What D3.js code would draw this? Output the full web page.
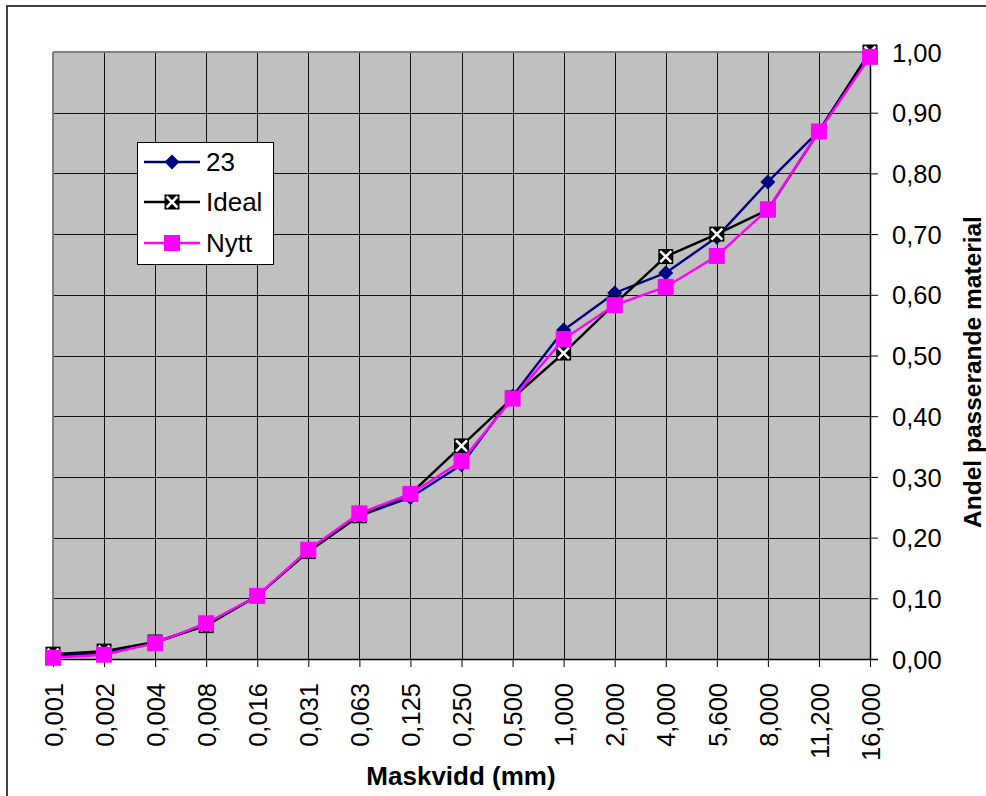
<!DOCTYPE html>
<html>
<head>
<meta charset="utf-8">
<script src="https://cdn.jsdelivr.net/npm/d3@7/dist/d3.min.js"></script>
<style>
  html, body { margin: 0; padding: 0; background: #fff; }
  svg { display: block; font-family: "Liberation Sans", Arial, sans-serif; }
</style>
</head>
<body>
<svg id="chart" width="986" height="796"></svg>
<script>
// Sieve sizes (mm) along the x axis
const sieves = ["0,001","0,002","0,004","0,008","0,016","0,031","0,063","0,125",
                "0,250","0,500","1,000","2,000","4,000","5,600","8,000","11,200","16,000"];
// Share of passing material per sieve
const serie23 = [0.005,0.010,0.027,0.056,0.104,0.177,0.236,0.266,0.320,0.433,0.542,0.603,0.636,0.695,0.786,0.870,1.000];
const ideal   = [0.008,0.013,0.028,0.055,0.104,0.177,0.236,0.272,0.351,0.430,0.504,0.585,0.663,0.700,0.740,0.869,1.000];
const nytt    = [0.002,0.007,0.026,0.059,0.104,0.180,0.240,0.272,0.326,0.429,0.527,0.583,0.613,0.664,0.741,0.869,0.992];
const yTicks  = [0,0.1,0.2,0.3,0.4,0.5,0.6,0.7,0.8,0.9,1.0];
const legendNames = ["23","Ideal","Nytt"];

const svg = d3.select("#chart");
const L = 53, R = 870, T = 52, B = 659;
const FONT = "'Liberation Sans', Arial, sans-serif";

const x = d3.scalePoint().domain(sieves).range([L, R]);
const y = d3.scaleLinear().domain([0, 1]).range([B, T]);
const fmt = v => d3.format(".2f")(v).replace(".", ",");

// outer chart frame
svg.append("rect").attr("x", 7).attr("y", 6).attr("width", 990).attr("height", 800)
  .attr("fill", "#fff").attr("stroke", "#404040").attr("stroke-width", 2);

// plot area
svg.append("rect").attr("x", L).attr("y", T).attr("width", R - L).attr("height", B - T)
  .attr("fill", "#c0c0c0");

// grid
const grid = svg.append("g").attr("shape-rendering", "crispEdges");
grid.selectAll("line.v").data(sieves.slice(1, -1)).join("line")
  .attr("x1", d => Math.round(x(d)) + 0.5).attr("x2", d => Math.round(x(d)) + 0.5)
  .attr("y1", T).attr("y2", B).attr("stroke", "#111").attr("stroke-width", 1);
grid.selectAll("line.h").data(yTicks.slice(1, -1)).join("line")
  .attr("y1", d => Math.round(y(d)) + 0.5).attr("y2", d => Math.round(y(d)) + 0.5)
  .attr("x1", L).attr("x2", R).attr("stroke", "#111").attr("stroke-width", 1);

// plot border: top/left grey, right/bottom axes dark
grid.append("line").attr("x1", L).attr("x2", R).attr("y1", T).attr("y2", T)
  .attr("stroke", "#808080").attr("stroke-width", 2);
grid.append("line").attr("x1", L).attr("x2", L).attr("y1", T).attr("y2", B)
  .attr("stroke", "#808080").attr("stroke-width", 2);

// right y axis
const yAxis = d3.axisRight(y).tickValues(yTicks).tickSize(8).tickPadding(14).tickFormat(fmt);
const gy = svg.append("g").attr("transform", `translate(${R},0)`).call(yAxis);
gy.select(".domain").attr("stroke", "#000").attr("stroke-width", 1.5);
gy.selectAll(".tick line").attr("stroke", "#000");
gy.selectAll(".tick text").attr("font-size", 25.5).attr("fill", "#000")
  .attr("font-family", FONT).attr("dy", "0.36em");

// bottom x axis
const xAxis = d3.axisBottom(x).tickSize(8).tickSizeOuter(0);
const gx = svg.append("g").attr("transform", `translate(0,${B})`).call(xAxis);
gx.select(".domain").attr("stroke", "#000").attr("stroke-width", 1.5);
gx.selectAll(".tick line").attr("stroke", "#000");
gx.selectAll(".tick text").attr("font-size", 25.5).attr("fill", "#000")
  .attr("font-family", FONT)
  .attr("transform", "rotate(-90)")
  .attr("text-anchor", "end")
  .attr("x", -24).attr("y", 0).attr("dy", "0.36em");

// series
const line = d3.line().x((d, i) => x(sieves[i])).y(d => y(d));
const plot = svg.append("g");

function drawDiamond(g, cx, cy, s) {
  g.append("path")
    .attr("d", `M${cx},${cy - s}L${cx + s},${cy}L${cx},${cy + s}L${cx - s},${cy}Z`)
    .attr("fill", "#000080");
}
function drawIdeal(g, cx, cy, s) {
  g.append("rect").attr("x", cx - s).attr("y", cy - s).attr("width", 2 * s).attr("height", 2 * s)
    .attr("fill", "#000");
  g.append("path")
    .attr("d", `M${cx - s + 2},${cy - s + 2}L${cx + s - 2},${cy + s - 2}M${cx + s - 2},${cy - s + 2}L${cx - s + 2},${cy + s - 2}`)
    .attr("stroke", "#fff").attr("stroke-width", 2.6);
}
function drawSquare(g, cx, cy, s) {
  g.append("rect").attr("x", cx - s).attr("y", cy - s).attr("width", 2 * s).attr("height", 2 * s)
    .attr("fill", "#ff00ff");
}

plot.append("path").datum(serie23).attr("d", line).attr("fill", "none")
  .attr("stroke", "#000080").attr("stroke-width", 2.4);
serie23.forEach((v, i) => drawDiamond(plot, x(sieves[i]), y(v), 7.5));

plot.append("path").datum(ideal).attr("d", line).attr("fill", "none")
  .attr("stroke", "#000").attr("stroke-width", 2.4);
ideal.forEach((v, i) => drawIdeal(plot, x(sieves[i]), y(v), 7.5));

plot.append("path").datum(nytt).attr("d", line).attr("fill", "none")
  .attr("stroke", "#ff00ff").attr("stroke-width", 2.4);
nytt.forEach((v, i) => drawSquare(plot, x(sieves[i]), y(v), 8));

// legend
const lg = svg.append("g");
lg.append("rect").attr("x", 137.5).attr("y", 142.5).attr("width", 136).attr("height", 122)
  .attr("fill", "#fff").attr("stroke", "#000").attr("stroke-width", 1);
const rowsY = [162, 202, 243];
const legendColors = ["#000080", "#000", "#ff00ff"];
const markerFns = [
  (g, cx, cy) => drawDiamond(g, cx, cy, 7.5),
  (g, cx, cy) => drawIdeal(g, cx, cy, 7.5),
  (g, cx, cy) => drawSquare(g, cx, cy, 8)
];
legendNames.forEach((name, i) => {
  lg.append("line").attr("x1", 144).attr("x2", 200).attr("y1", rowsY[i]).attr("y2", rowsY[i])
    .attr("stroke", legendColors[i]).attr("stroke-width", 2.4);
  markerFns[i](lg, 172, rowsY[i]);
  lg.append("text").attr("x", 206).attr("y", rowsY[i]).attr("dy", "0.36em")
    .attr("font-size", 26).attr("fill", "#000").text(name);
});

// axis titles
svg.append("text").attr("x", 461).attr("y", 785).attr("text-anchor", "middle")
  .attr("font-size", 26).attr("font-weight", "bold").text("Maskvidd (mm)");
svg.append("text").attr("transform", "translate(981,372) rotate(-90)")
  .attr("text-anchor", "middle").attr("font-size", 24.5).attr("font-weight", "bold")
  .text("Andel passerande material");
</script>
</body>
</html>
